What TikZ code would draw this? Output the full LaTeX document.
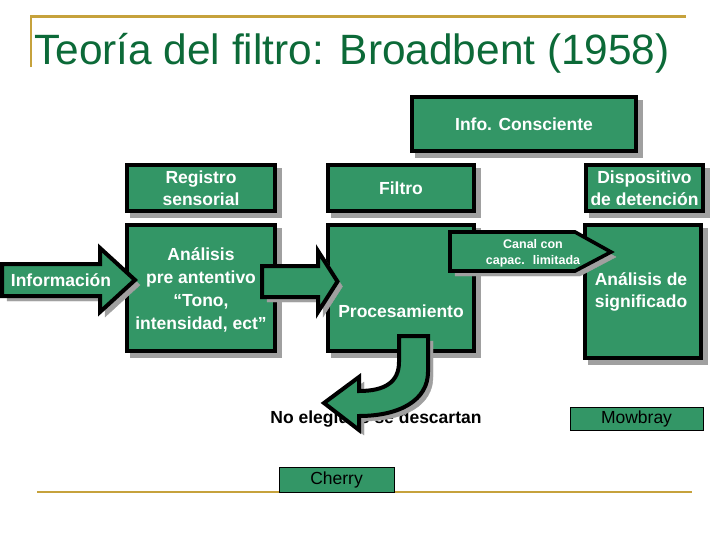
\documentclass[tikz,border=0pt]{standalone}
\usepackage{fontspec}
\setmainfont{Liberation Sans}
\definecolor{boxgreen}{RGB}{51,150,102}
\definecolor{titlegreen}{RGB}{12,106,56}
\definecolor{goldline}{RGB}{198,162,60}
\definecolor{shadowgray}{RGB}{160,160,160}
\tikzset{
  shadowed/.style={preaction={fill=shadowgray, draw=shadowgray, transform canvas={xshift=5pt,yshift=-5pt}}},
  box/.style={draw=black, line width=4pt, fill=boxgreen, inner sep=0pt, shadowed},
  wtext/.style={text=white, font=\fontsize{17.5}{22}\selectfont\bfseries, align=center, inner sep=0pt},
  blockarrow/.style={draw=black, line width=4pt, fill=boxgreen, line join=miter, shadowed},
  refbox/.style={draw=black, line width=1pt, fill=boxgreen, inner sep=0pt, text=black, font=\fontsize{17.5}{20}\selectfont},
  goldrule/.style={draw=goldline, line width=2.2pt},
}
\begin{document}
\begin{tikzpicture}[x=1pt,y=-1pt]
\useasboundingbox[fill=white] (0,0) rectangle (728,546);
% gold rules
\coordinate (tl) at (31,16.5);
\coordinate (tr) at (686,16.5);
\coordinate (tv) at (31,67);
\coordinate (bl) at (37,492);
\coordinate (br) at (692,492);
\draw[goldrule] (tv) -- (tl) -- (tr);
\draw[goldrule, line width=2.6pt] (bl) -- (br);
% title
\node[anchor=base west, inner sep=0pt, text=titlegreen, font=\fontsize{42.4}{46}\selectfont] (title) at (34,64) {Teoría del filtro: Broadbent (1958)};
% boxes
\node[box, wtext, minimum width=224pt, minimum height=54pt] (info) at (524,124) {Info. Consciente};
\node[box, wtext, minimum width=148pt, minimum height=46pt] (reg) at (201,188) {Registro\\sensorial};
\node[box, wtext, minimum width=146pt, minimum height=46pt] (filtro) at (401,188) {Filtro};
\node[box, wtext, minimum width=117pt, minimum height=46pt] (disp) at (644.5,188) {Dispositivo\\de detención};
\node[box, minimum width=148pt, minimum height=126pt] (ana1) at (201,288) {};
\node[wtext, font=\fontsize{17.5}{23}\selectfont\bfseries] (ana1txt) at (201,290) {Análisis\\pre antentivo\\“Tono,\\intensidad, ect”};
\node[box, minimum width=146pt, minimum height=126pt] (proc) at (401,288) {};
\node[wtext] (proctxt) at (401,311) {Procesamiento};
\node[box, minimum width=116pt, minimum height=133pt] (ana2) at (643,291.5) {};
\node[wtext, font=\fontsize{17.5}{21.5}\selectfont\bfseries] (ana2txt) at (641,292) {Análisis de\\significado};
% block arrows
\draw[blockarrow] (2,264) -- (100,264) -- (100,248) -- (135,280) -- (100,312) -- (100,296) -- (2,296) -- cycle;
\node[wtext] (infoin) at (61,280) {Información};
\draw[blockarrow] (262,266) -- (318,266) -- (318,251) -- (337.5,281.5) -- (318,312) -- (318,297) -- (262,297) -- cycle;
\draw[blockarrow, line width=3.6pt] (450,232) -- (575,232) -- (611,252) -- (575,271) -- (450,271) -- cycle;
\node[wtext, font=\fontsize{12.5}{16}\selectfont\bfseries] (canal) at (533,253) {Canal con\\capac.~ limitada};
% discarded
\node[inner sep=0pt, text=black, font=\fontsize{17.5}{20}\selectfont\bfseries] (noeleg) at (376,419) {No elegidos se descartan};
\draw[blockarrow] (399,336) -- (428,336) -- (428,372) .. controls (428,400) and (400,416) .. (359,416) -- (359,430) -- (324,403) -- (359,377) -- (359,391) .. controls (385,391) and (399,382) .. (399,362) -- cycle;
% reference boxes
\node[refbox, minimum width=133pt, minimum height=23pt] (mowbray) at (636.5,418.5) {Mowbray};
\node[refbox, minimum width=115pt, minimum height=25pt] (cherry) at (336.5,479.5) {Cherry};
\end{tikzpicture}
\end{document}
